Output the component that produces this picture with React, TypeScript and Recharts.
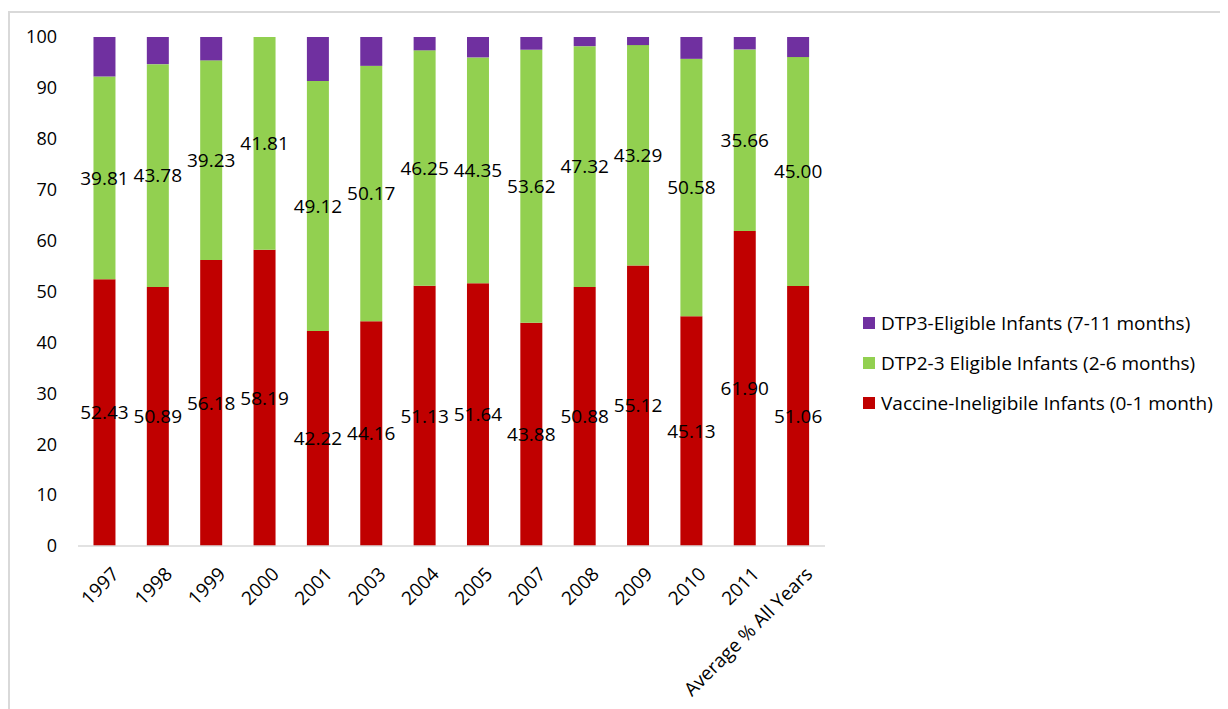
import { BarChart, Bar, XAxis, YAxis, Legend, LabelList } from "recharts";

const years = [
  "1997", "1998", "1999", "2000", "2001", "2003", "2004",
  "2005", "2007", "2008", "2009", "2010", "2011", "Average % All Years",
];
const ineligible = [52.43, 50.89, 56.18, 58.19, 42.22, 44.16, 51.13, 51.64, 43.88, 50.88, 55.12, 45.13, 61.9, 51.06];
const dtp23 = [39.81, 43.78, 39.23, 41.81, 49.12, 50.17, 46.25, 44.35, 53.62, 47.32, 43.29, 50.58, 35.66, 45.0];
const dtp3 = [7.76, 5.33, 4.59, 0, 8.66, 5.67, 2.62, 4.01, 2.5, 1.8, 1.59, 4.29, 2.44, 3.94];
const yTicks = [0, 10, 20, 30, 40, 50, 60, 70, 80, 90, 100];

const series = [
  { key: "dtp3", name: "DTP3-Eligible Infants (7-11 months)", color: "#7030A0" },
  { key: "dtp23", name: "DTP2-3 Eligible Infants (2-6 months)", color: "#92D050" },
  { key: "inel", name: "Vaccine-Ineligibile Infants (0-1 month)", color: "#C00000" },
];

const data = years.map((y, i) => ({
  year: y,
  inel: ineligible[i],
  dtp23: dtp23[i],
  dtp3: dtp3[i],
}));

const font = "'Open Sans', sans-serif";

const XTick = (props: any) => {
  const { x, y, payload } = props;
  return (
    <g transform={`translate(${x + 6},${y + 12})`}>
      <text
        textAnchor="end"
        transform="rotate(-45)"
        dy="0.7em"
        fontSize={19}
        fontFamily={font}
        fill="#000"
      >
        {payload.value}
      </text>
    </g>
  );
};

const LegendBox = () => (
  <div style={{ fontFamily: font, fontSize: 19, color: "#000" }}>
    {series.map((s) => (
      <div key={s.key} style={{ display: "flex", alignItems: "center", height: 40 }}>
        <span style={{ width: 12, height: 12, background: s.color, marginRight: 6, display: "inline-block" }} />
        <span>{s.name}</span>
      </div>
    ))}
  </div>
);

const fmt = (v: any) => Number(v).toFixed(2);

export default function App() {
  return (
    <div
      style={{
        marginTop: 3,
        width: 1220,
        height: 698,
        borderTop: "2px solid #d9d9d9",
        borderLeft: "2px solid #d9d9d9",
        boxSizing: "border-box",
        background: "#fff",
      }}
    >
      <BarChart
        width={1210}
        height={690}
        data={data}
        margin={{ top: 24, right: 35, bottom: 0, left: 0 }}
        barCategoryGap="29%"
      >
        <XAxis
          dataKey="year"
          interval={0}
          height={157}
          tick={<XTick />}
          tickLine={false}
          axisLine={{ stroke: "#d9d9d9", strokeWidth: 1.5 }}
        />
        <YAxis
          domain={[0, 100]}
          ticks={yTicks}
          width={68}
          axisLine={false}
          tickLine={false}
          tickSize={0}
          tickMargin={21}
          tick={{ fontSize: 18, fontFamily: font, fill: "#000" }}
        />
        <Legend
          layout="vertical"
          align="right"
          verticalAlign="middle"
          content={<LegendBox />}
          wrapperStyle={{ left: 853, top: 290, width: 360 }}
        />
        <Bar dataKey="inel" name={series[2].name} stackId="a" fill="#C00000" isAnimationActive={false}>
          <LabelList dataKey="inel" position="center" formatter={fmt} fill="#000" fontSize={19} fontFamily={font} />
        </Bar>
        <Bar dataKey="dtp23" name={series[1].name} stackId="a" fill="#92D050" isAnimationActive={false}>
          <LabelList dataKey="dtp23" position="center" formatter={fmt} fill="#000" fontSize={19} fontFamily={font} />
        </Bar>
        <Bar dataKey="dtp3" name={series[0].name} stackId="a" fill="#7030A0" isAnimationActive={false} />
      </BarChart>
    </div>
  );
}
